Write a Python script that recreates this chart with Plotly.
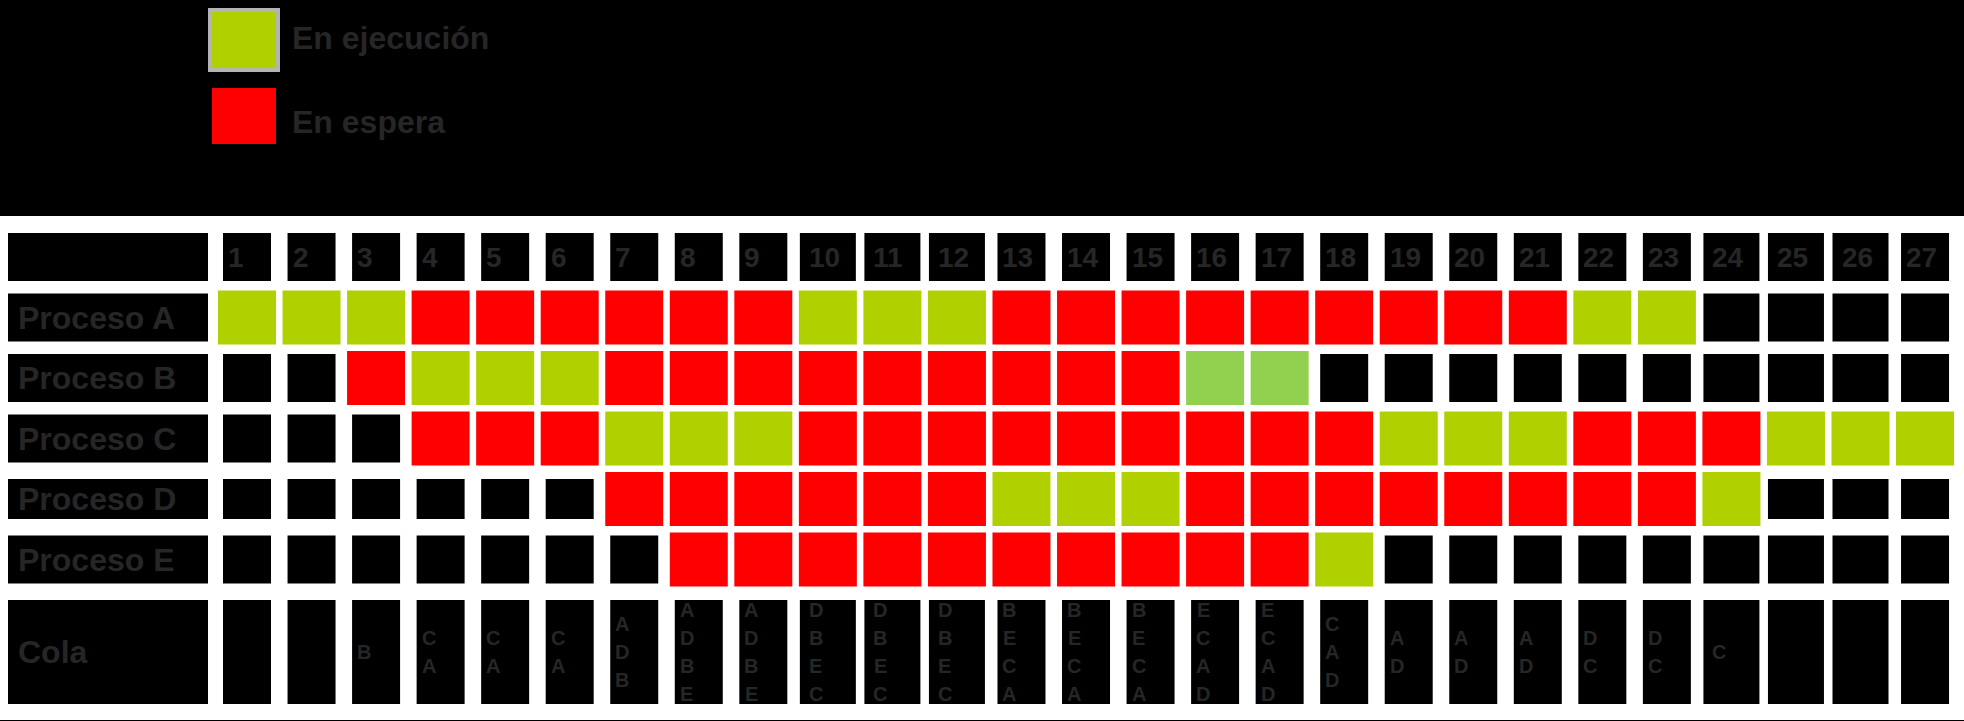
import plotly.graph_objects as go

# ---------------- data ----------------
times = list(range(1, 28))
process_names = ["Proceso A", "Proceso B", "Proceso C", "Proceso D", "Proceso E"]
queue_label = "Cola"
legend_labels = ["En ejecución", "En espera"]

# E = en ejecución, G = en ejecución (tono claro), W = en espera, "" = sin actividad
proc_a = ["E", "E", "E", "W", "W", "W", "W", "W", "W", "E", "E", "E", "W", "W", "W", "W", "W", "W",
          "W", "W", "W", "E", "E", "", "", "", ""]
proc_b = ["", "", "W", "E", "E", "E", "W", "W", "W", "W", "W", "W", "W", "W", "W", "G", "G", "",
          "", "", "", "", "", "", "", "", ""]
proc_c = ["", "", "", "W", "W", "W", "E", "E", "E", "W", "W", "W", "W", "W", "W", "W", "W", "W",
          "E", "E", "E", "W", "W", "W", "E", "E", "E"]
proc_d = ["", "", "", "", "", "", "W", "W", "W", "W", "W", "W", "E", "E", "E", "W", "W", "W",
          "W", "W", "W", "W", "W", "E", "", "", ""]
proc_e = ["", "", "", "", "", "", "", "W", "W", "W", "W", "W", "W", "W", "W", "W", "W", "E",
          "", "", "", "", "", "", "", "", ""]
process_states = [proc_a, proc_b, proc_c, proc_d, proc_e]
queue = ["", "", "B", "CA", "CA", "CA", "ADB", "ADBE", "ADBE", "DBEC", "DBEC", "DBEC", "BECA",
         "BECA", "BECA", "ECAD", "ECAD", "CAD", "AD", "AD", "AD", "DC", "DC", "C", "", "", ""]

# ---------------- style ----------------
W, H = 1964, 721
TOP, BOTTOM = 216, 720
PX_PER_X = 64.54          # pixels per column
X_FIRST_PX = 247          # pixel centre of column 1
PX_PER_Y = 60.5           # pixels per row
Y_HEADER_PX = 257         # pixel centre of header row

state_colors = {"E": "#b0d000", "G": "#92d050", "W": "#ff0000"}
TEXT = "#262626"
FONT = "Liberation Sans, Arial, sans-serif"

def px_x(p):
    return p / PX_PER_X

def px_y(p):
    return p / PX_PER_Y

x_min = 1 - X_FIRST_PX / PX_PER_X
x_max = 1 + (W - X_FIRST_PX) / PX_PER_X
y_top = -(Y_HEADER_PX - TOP) / PX_PER_Y
y_bot = (BOTTOM - Y_HEADER_PX) / PX_PER_Y

row_y = [1, 2, 3, 4, 5]
queue_y = (652 - Y_HEADER_PX) / PX_PER_Y
label_x = 1 + (108 - X_FIRST_PX) / PX_PER_X
label_w = px_x(200)
text_left_x = 1 + (16 - X_FIRST_PX) / PX_PER_X
row_box_h = [px_y(48), px_y(48), px_y(48), px_y(40), px_y(48)]
col_w = [px_x(56) if t in (10, 11, 12, 24, 25, 26) else px_x(48) for t in times]
cell_w = px_x(58)
cell_h = px_y(54)

fig = go.Figure()

def add_cells(xs, ys, ws, hs, colors):
    fig.add_trace(go.Bar(
        x=xs, y=hs, base=[y - h / 2 for y, h in zip(ys, hs)], width=ws,
        marker=dict(color=colors, line=dict(width=0)),
        hoverinfo="skip", showlegend=False))

# black label / header / empty cells
bx, by, bw, bh = [], [], [], []
bx.append(label_x); by.append(0); bw.append(label_w); bh.append(px_y(48))
for t, w in zip(times, col_w):
    bx.append(t); by.append(0); bw.append(w); bh.append(px_y(48))
for r, states in enumerate(process_states):
    bx.append(label_x); by.append(row_y[r]); bw.append(label_w); bh.append(row_box_h[r])
    for t, w, s in zip(times, col_w, states):
        if s == "":
            bx.append(t); by.append(row_y[r]); bw.append(w); bh.append(row_box_h[r])
bx.append(label_x); by.append(queue_y); bw.append(label_w); bh.append(px_y(104))
for t, w in zip(times, col_w):
    bx.append(t); by.append(queue_y); bw.append(w); bh.append(px_y(104))
add_cells(bx, by, bw, bh, "#000000")

# coloured cells
cx, cy, cc = [], [], []
for r, states in enumerate(process_states):
    for t, s in zip(times, states):
        if s:
            cx.append(t); cy.append(row_y[r]); cc.append(state_colors[s])
add_cells(cx, cy, [cell_w] * len(cx), [cell_h] * len(cx), cc)

annotations = []
for t in times:
    annotations.append(dict(x=t - px_x(21), y=0, xref="x", yref="y", text=f"<b>{t}</b>",
                            showarrow=False, xanchor="left", yanchor="middle",
                            font=dict(family=FONT, size=28, color=TEXT)))
for r, name in enumerate(process_names):
    annotations.append(dict(x=text_left_x, y=row_y[r], xref="x", yref="y", text=f"<b>{name}</b>",
                            showarrow=False, xanchor="left", yanchor="middle",
                            font=dict(family=FONT, size=32, color=TEXT)))
annotations.append(dict(x=text_left_x, y=queue_y, xref="x", yref="y", text=f"<b>{queue_label}</b>",
                        showarrow=False, xanchor="left", yanchor="middle",
                        font=dict(family=FONT, size=32, color=TEXT)))
for t, q in zip(times, queue):
    n = len(q)
    for k, letter in enumerate(q):
        annotations.append(dict(x=t - px_x(12), y=queue_y + (k - (n - 1) / 2) * px_y(28),
                                xref="x", yref="y", text=f"<b>{letter}</b>",
                                showarrow=False, xanchor="center", yanchor="middle",
                                font=dict(family=FONT, size=20, color=TEXT)))

def paper_y(p):
    return (BOTTOM - p) / (BOTTOM - TOP)

shapes = [
    dict(type="rect", xref="paper", yref="paper", x0=210 / W, x1=278 / W,
         y0=paper_y(70), y1=paper_y(10), fillcolor=state_colors["E"],
         line=dict(color="#b4b4b4", width=4), layer="above"),
    dict(type="rect", xref="paper", yref="paper", x0=212 / W, x1=276 / W,
         y0=paper_y(144), y1=paper_y(88), fillcolor=state_colors["W"],
         line=dict(width=0), layer="above"),
]
for label, yc in zip(legend_labels, [38, 122]):
    annotations.append(dict(x=290 / W, y=paper_y(yc), xref="paper", yref="paper",
                            text=f"<b>{label}</b>", showarrow=False, xanchor="left",
                            yanchor="middle", font=dict(family=FONT, size=32, color=TEXT)))

fig.update_layout(
    width=W, height=H,
    margin=dict(l=0, r=0, t=TOP, b=H - BOTTOM, pad=0, autoexpand=False),
    paper_bgcolor="#000000", plot_bgcolor="#ffffff",
    barmode="overlay",
    xaxis=dict(range=[x_min, x_max], visible=False, fixedrange=True),
    yaxis=dict(range=[y_bot, y_top], visible=False, fixedrange=True),
    annotations=annotations, shapes=shapes,
    showlegend=False,
)

fig.write_html(
    "out.html",
    config={"displayModeBar": False},
    post_script="document.body.style.margin='0';document.body.style.overflow='hidden';",
)
